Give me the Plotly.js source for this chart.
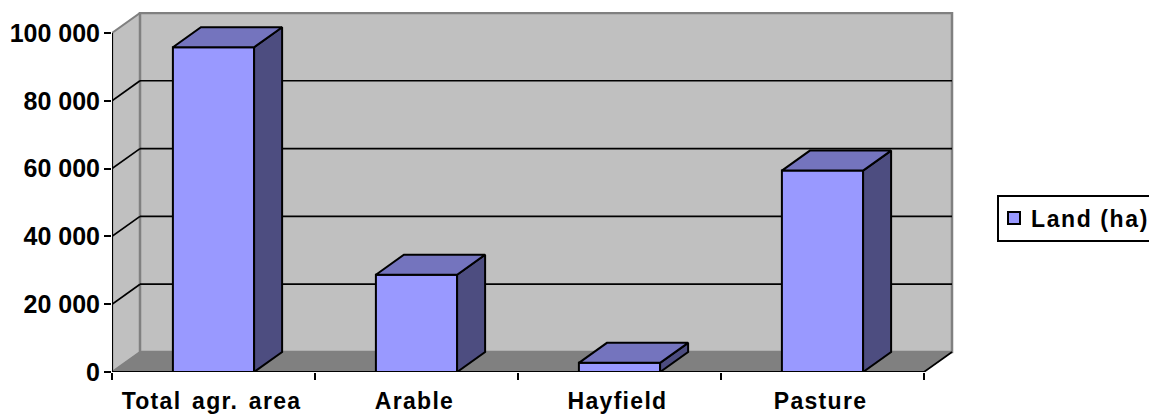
<!DOCTYPE html>
<html>
<head>
<meta charset="utf-8">
<script src="https://cdn.plot.ly/plotly-3.0.1.min.js"></script>
<style>
html,body{margin:0;padding:0;background:#fff;overflow:hidden}
.xtick text{letter-spacing:1.3px;word-spacing:3px}
.legendtext{letter-spacing:1.6px;transform:translateX(-3px)}
</style>
</head>
<body>
<div id="chart" style="width:1149px;height:415px"></div>
<script>
// Land use by category, in hectares
const categories = ['Total agr. area', 'Arable', 'Hayfield', 'Pasture'];
const land = [95800, 28700, 2700, 59400];
const seriesName = 'Land (ha)';
const gridValues = [20000, 40000, 60000, 80000];
const yTicks = [0, 20000, 40000, 60000, 80000, 100000];
const yTickText = ['0', '20 000', '40 000', '60 000', '80 000', '100 000'];

// Oblique projection of the box: one depth step, expressed in axis units
const depthX = 0.138;
const depthY = 5900;
const barWidth = 0.4;
const xMin = -0.5, xMax = 3.5;
const yMax = 100000;

const positions = categories.map((_, i) => i);
const FRONT = '#9999FF', TOP = '#7474BE', SIDE = '#4D4D80';
const WALL = '#C0C0C0', FLOOR = '#808080', EDGE = '#808080';

const poly = (pts, fill, lineColor, w) => ({
  type: 'path', layer: 'below', xref: 'x', yref: 'y',
  path: 'M' + pts.map(p => p[0] + ',' + p[1]).join('L') + 'Z',
  fillcolor: fill, line: {color: lineColor, width: w}
});
const seg = (x0, y0, x1, y1, color, w) => ({
  type: 'line', layer: 'below', xref: 'x', yref: 'y',
  x0, y0, x1, y1, line: {color, width: w}
});

const shapes = [
  // side wall, back wall, floor
  poly([[xMin,0],[xMin+depthX,depthY],[xMin+depthX,yMax+depthY],[xMin,yMax]], WALL, EDGE, 2),
  poly([[xMin+depthX,depthY],[xMax+depthX,depthY],[xMax+depthX,yMax+depthY],[xMin+depthX,yMax+depthY]], WALL, EDGE, 2.5),
  poly([[xMin,0],[xMax,0],[xMax+depthX,depthY],[xMin+depthX,depthY]], FLOOR, FLOOR, 1)
];
gridValues.forEach(v => {
  shapes.push(seg(xMin, v, xMin+depthX, v+depthY, '#000', 1.7));
  shapes.push(seg(xMin+depthX, v+depthY, xMax+depthX, v+depthY, '#000', 1.7));
});
shapes.push(seg(xMax, 0, xMax+depthX, depthY, '#000', 1.7));

// Axis lines along the front edge of the box
const axisLines = {
  type: 'scatter', mode: 'lines', showlegend: false, hoverinfo: 'skip', cliponaxis: false,
  x: [xMin, xMin, xMax], y: [yMax, 0, 0],
  line: {color: '#000', width: 2.2}
};

const faceTraces = [];
positions.forEach((x, i) => {
  const v = land[i], l = x - barWidth/2, r = x + barWidth/2;
  faceTraces.push({
    type: 'scatter', mode: 'lines', fill: 'toself', fillcolor: SIDE, showlegend: false, hoverinfo: 'skip',
    x: [r, r+depthX, r+depthX, r, r], y: [0, depthY, v+depthY, v, 0],
    line: {color: '#000', width: 2}
  });
  faceTraces.push({
    type: 'scatter', mode: 'lines', fill: 'toself', fillcolor: TOP, showlegend: false, hoverinfo: 'skip',
    x: [l, r, r+depthX, l+depthX, l], y: [v, v, v+depthY, v+depthY, v],
    line: {color: '#000', width: 2}
  });
});

const bars = {
  type: 'bar', name: seriesName, x: positions, y: land, width: barWidth,
  marker: {color: FRONT, line: {color: '#000', width: 2}}
};

const font = {family: '"Liberation Sans", Arial, sans-serif', color: '#000', weight: 700};

Plotly.newPlot('chart', [bars, axisLines, ...faceTraces], {
  width: 1149, height: 415,
  margin: {l: 112, r: 190, t: 12, b: 42.5, pad: 0},
  paper_bgcolor: '#fff', plot_bgcolor: 'rgba(0,0,0,0)',
  shapes,
  showlegend: true,
  legend: {
    x: 997/1149, xref: 'container', xanchor: 'left', y: (415-218)/415, yref: 'container', yanchor: 'middle',
    bgcolor: '#fff', bordercolor: '#000', borderwidth: 2, indentation: -5,
    font: {...font, size: 23}, itemclick: false, itemdoubleclick: false
  },
  xaxis: {
    range: [xMin, xMin + 847/203], showgrid: false, zeroline: false, showline: false,
    tickmode: 'array', tickvals: positions, ticktext: categories, ticks: '',
    tickfont: {...font, size: 23}, ticklabelstandoff: 13, ticklabelshift: -2,
    minor: {tickmode: 'array', tickvals: [-0.5, 0.5, 1.5, 2.5, 3.5], ticks: 'outside', ticklen: 7, tickwidth: 2, tickcolor: '#000', showgrid: false}
  },
  yaxis: {
    range: [0, 360.5/3.395*1000], showgrid: false, zeroline: false, showline: false,
    tickmode: 'array', tickvals: yTicks, ticktext: yTickText,
    ticks: 'outside', ticklen: 7, tickwidth: 2, tickcolor: '#000',
    tickfont: {...font, size: 25}, ticklabelstandoff: -1
  }
}, {staticPlot: true, displayModeBar: false});
</script>
</body>
</html>
